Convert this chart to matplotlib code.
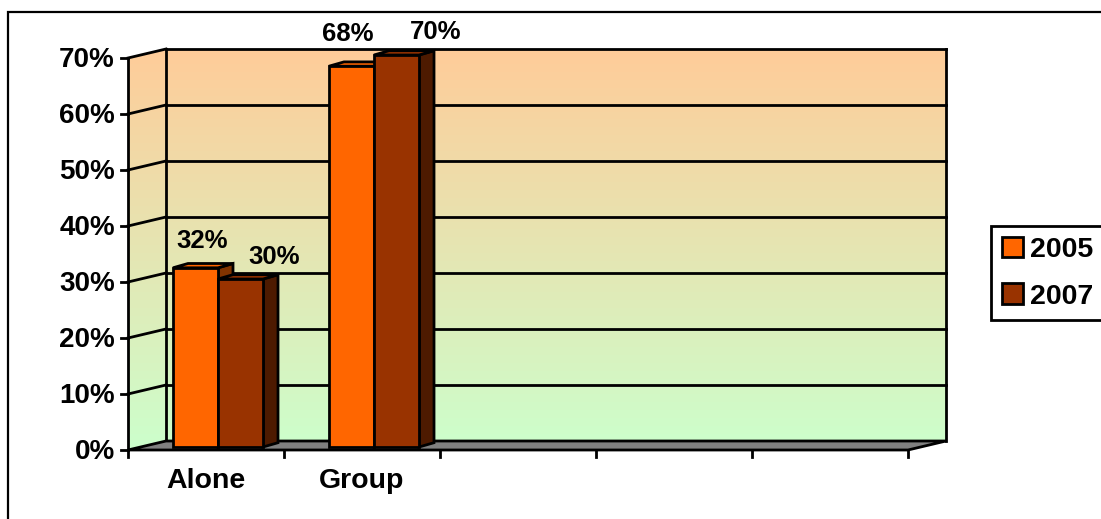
import matplotlib
matplotlib.use('Agg')
import matplotlib.pyplot as plt
from matplotlib.patches import Polygon, Patch, Rectangle
import numpy as np

categories = ['Alone', 'Group', '', '', '']
years = ['2005', '2007']
values_2005 = [32, 68]
values_2007 = [30, 70]
y_ticks = [0, 10, 20, 30, 40, 50, 60, 70]

colors = {'2005': '#FF6600', '2007': '#993300'}
side_colors = {'2005': '#803300', '2007': '#4D1A00'}

W, H = 1101, 519
X0, Y0 = 128, 450          # pixel position of the front origin (from top left)
CAT_PX = 156               # pixels per category
PCT_PX = 5.6               # pixels per percent

plt.rcParams['font.family'] = ['Liberation Sans', 'DejaVu Sans']
plt.rcParams['font.weight'] = 'bold'

fig = plt.figure(figsize=(W / 100, H / 100), dpi=100)
ax = fig.add_axes([0, 0, 1, 1])
ax.set_axis_off()


def off(px, py):
    return px / CAT_PX, py / PCT_PX


FDX, FDY = off(38, 9)       # depth of the floor / side wall
BFX, BFY = off(12, 3)       # where the bar front sits in depth
BDX, BDY = off(15, 4.3)     # bar depth
ncat = len(categories)
ymax = y_ticks[-1]
LW = 2.0

# chart area border
fig.patches.append(Rectangle((8 / W, -0.1), 1.2, 1 - 12 / H + 0.1, transform=fig.transFigure,
                             fill=False, lw=1.6, edgecolor='black'))

# walls with the peach -> green gradient
top_c = np.array([255, 204, 153]) / 255
bot_c = np.array([204, 255, 204]) / 255
t = np.linspace(0, 1, 256)[:, None]
grad = (top_c * (1 - t) + bot_c * t)[:, None, :]

back_wall = [(FDX, FDY), (ncat + FDX, FDY), (ncat + FDX, ymax + FDY), (FDX, ymax + FDY)]
side_wall = [(0, 0), (FDX, FDY), (FDX, ymax + FDY), (0, ymax)]
for poly in (back_wall, side_wall):
    img = ax.imshow(grad, extent=(0, ncat + FDX, 0, ymax + FDY), aspect='auto',
                    origin='upper', zorder=1)
    clip = Polygon(poly, closed=True, transform=ax.transData)
    img.set_clip_path(clip)
ax.set_xlim(-X0 / CAT_PX, (W - X0) / CAT_PX)
ax.set_ylim(-(H - Y0) / PCT_PX, Y0 / PCT_PX)

# gridlines on back and side walls
for v in y_ticks[1:]:
    ax.plot([FDX, ncat + FDX], [v + FDY, v + FDY], color='black', lw=LW, zorder=2)
    ax.plot([0, FDX], [v, v + FDY], color='black', lw=LW, zorder=2)
ax.plot([FDX, FDX], [FDY, ymax + FDY], color='black', lw=LW, zorder=2)
ax.plot([ncat + FDX, ncat + FDX], [FDY, ymax + FDY], color='black', lw=LW, zorder=2)

# floor
floor = [(0, 0), (ncat, 0), (ncat + FDX, FDY), (FDX, FDY)]
ax.add_patch(Polygon(floor, closed=True, facecolor='#808080', edgecolor='black', lw=LW, zorder=3))

# value axis with ticks
tick_x, _ = off(7, 0)
_, tick_y = off(0, 7)
ax.plot([0, 0], [0, ymax], color='black', lw=LW, zorder=4)
for v in y_ticks:
    ax.plot([-tick_x, 0], [v, v], color='black', lw=LW, zorder=4)
    ax.text(-tick_x - 6 / CAT_PX, v - 0.3, f'{v}%', ha='right', va='center', fontsize=20)

# category axis ticks and labels
for i in range(ncat + 1):
    ax.plot([i, i], [0, -tick_y], color='black', lw=LW, zorder=4)
for i, name in enumerate(categories):
    if name:
        ax.text(i + 0.5, -31 / PCT_PX, name, ha='center', va='center', fontsize=20.5)

# 3d bars
bar_w = 0.2885
first = 0.2115
label_offsets = {('2005', 0): (7, 27), ('2007', 0): (34, 22),
                 ('2005', 1): (-4, 32.5), ('2007', 1): (39, 22.5)}
series = {'2005': values_2005, '2007': values_2007}
for i in range(len(values_2005)):
    for j, year in enumerate(years):
        v = series[year][i]
        x = i + first + j * bar_w + BFX
        y0 = BFY
        y1 = v + BFY
        side = [(x + bar_w, y0), (x + bar_w + BDX, y0 + BDY), (x + bar_w + BDX, y1 + BDY), (x + bar_w, y1)]
        top = [(x, y1), (x + bar_w, y1), (x + bar_w + BDX, y1 + BDY), (x + BDX, y1 + BDY)]
        front = [(x, y0), (x + bar_w, y0), (x + bar_w, y1), (x, y1)]
        ax.add_patch(Polygon(side, closed=True, facecolor=side_colors[year], edgecolor='black', lw=LW, zorder=5))
        ax.add_patch(Polygon(top, closed=True, facecolor=colors[year], edgecolor='black', lw=LW, zorder=5))
        ax.add_patch(Polygon(front, closed=True, facecolor=colors[year], edgecolor='black', lw=LW, zorder=5))
        dx, dy = label_offsets[(year, i)]
        ax.annotate(f'{v}%', (x + bar_w / 2, y1), xytext=(dx, dy), textcoords='offset pixels',
                    ha='center', va='center', fontsize=18.5, zorder=6)

handles = [Patch(facecolor=colors[y], edgecolor='black', lw=LW) for y in years]
leg = fig.legend(handles, years, loc='upper left', bbox_to_anchor=(990.7 / W, 1 - 225.7 / H),
                 borderaxespad=0, fancybox=False, edgecolor='black', framealpha=1,
                 prop=dict(family=['Liberation Sans'], weight='bold', size=20.5),
                 handlelength=0.74, handleheight=0.74, handletextpad=0.25,
                 borderpad=0.38, labelspacing=0.72)
leg.get_frame().set_linewidth(LW)

fig.savefig('out.png', dpi=100)
